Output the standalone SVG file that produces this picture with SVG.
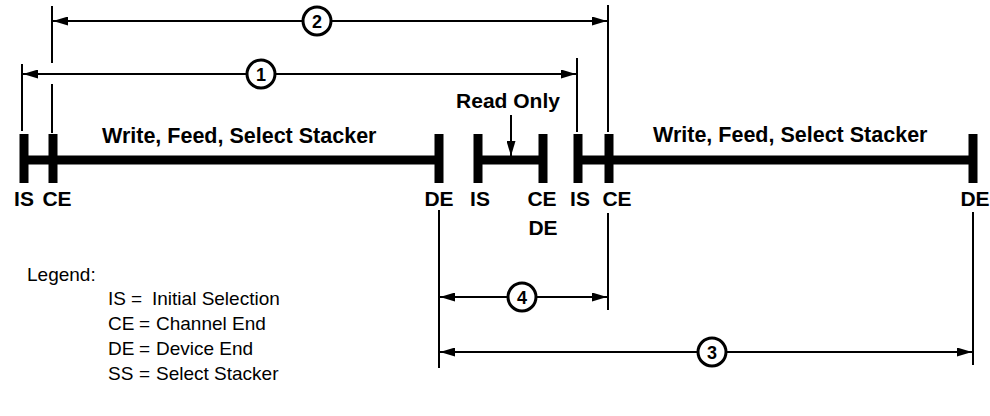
<svg xmlns="http://www.w3.org/2000/svg" width="990" height="416" viewBox="0 0 990 416">
<defs>
<style>
.bar{fill:#000}
.main{stroke:#000;stroke-width:9;fill:none}
.tick{stroke:#000;stroke-width:2;fill:none}
.arr{stroke:#000;stroke-width:1.8;fill:none;marker-start:url(#ah);marker-end:url(#ah)}
.circ{fill:#fff;stroke:#000;stroke-width:3}
.num{font-family:"Liberation Sans",Arial,sans-serif;font-weight:bold;font-size:18px;text-anchor:middle;fill:#000}
.lbl{font-family:"Liberation Sans",Arial,sans-serif;font-weight:bold;font-size:21px;fill:#000}
.big{font-size:21.5px}
.mid{text-anchor:middle}
.leg{font-family:"Liberation Sans",Arial,sans-serif;font-size:19px;fill:#000}
</style>
<marker id="ah" viewBox="0 0 15 9" refX="15" refY="4.5" markerWidth="15" markerHeight="9" markerUnits="userSpaceOnUse" orient="auto-start-reverse">
<path d="M0,0 L15,4.5 L0,9 z" fill="#000"/>
</marker>
<marker id="ahd" viewBox="0 0 9 15" refX="4.5" refY="15" markerWidth="9" markerHeight="15" markerUnits="userSpaceOnUse" orient="0">
<path d="M0,0 L9,0 L4.5,15 z" fill="#000"/>
</marker>
</defs>
<rect width="990" height="416" fill="#fff"/>

<g id="seg1">
<line class="main" x1="24" y1="160" x2="439" y2="160"/>
<rect class="bar" x="19.5" y="134" width="9" height="49"/>
<rect class="bar" x="48.5" y="134" width="9" height="49"/>
<rect class="bar" x="434.5" y="134" width="9" height="49"/>
<text class="lbl big" x="102" y="143">Write, Feed, Select Stacker</text>
<text class="lbl mid" x="24" y="206">IS</text>
<text class="lbl mid" x="57" y="206">CE</text>
<text class="lbl mid" x="439" y="206">DE</text>
</g>

<g id="seg2">
<line class="main" x1="478" y1="160" x2="543" y2="160"/>
<rect class="bar" x="473.5" y="134" width="9" height="49"/>
<rect class="bar" x="538.5" y="134" width="9" height="49"/>
<text class="lbl mid" x="480" y="206">IS</text>
<text class="lbl mid" x="542" y="206">CE</text>
<text class="lbl mid" x="543" y="235">DE</text>
</g>

<g id="readonly">
<text class="lbl mid" x="508" y="108">Read Only</text>
<line x1="511" y1="115" x2="511" y2="156" stroke="#000" stroke-width="2" marker-end="url(#ahd)"/>
</g>

<g id="seg3">
<line class="main" x1="578" y1="160" x2="973" y2="160"/>
<rect class="bar" x="573.5" y="134" width="9" height="49"/>
<rect class="bar" x="604.5" y="134" width="9" height="49"/>
<rect class="bar" x="968.5" y="134" width="9" height="49"/>
<text class="lbl big" x="653" y="142">Write, Feed, Select Stacker</text>
<text class="lbl mid" x="580" y="206">IS</text>
<text class="lbl mid" x="617" y="206">CE</text>
<text class="lbl mid" x="975" y="206">DE</text>
</g>

<g id="connectors">
<line class="tick" x1="52" y1="6" x2="52" y2="63"/>
<line class="tick" x1="52" y1="84" x2="52" y2="133"/>
<line class="tick" x1="608" y1="5" x2="608" y2="132"/>
<line class="arr" x1="53" y1="21" x2="607" y2="21"/>
<line class="tick" x1="22" y1="64" x2="22" y2="131"/>
<line class="tick" x1="577" y1="58" x2="577" y2="132"/>
<line class="arr" x1="23" y1="74" x2="576" y2="74"/>
<line class="tick" x1="439" y1="210" x2="439" y2="368"/>
<line class="tick" x1="608" y1="213" x2="608" y2="310"/>
<line class="tick" x1="973" y1="212" x2="973" y2="365"/>
<line class="arr" x1="440" y1="297" x2="607" y2="297"/>
<line class="arr" x1="440" y1="352" x2="972" y2="352"/>
</g>

<g id="dim1">
<circle class="circ" cx="261" cy="74" r="14"/>
<text class="num" x="261" y="80.5">1</text>
</g>
<g id="dim2">
<circle class="circ" cx="317" cy="21" r="14"/>
<text class="num" x="317" y="27.5">2</text>
</g>
<g id="dim4">
<circle class="circ" cx="522" cy="297" r="14"/>
<text class="num" x="522" y="303.5">4</text>
</g>
<g id="dim3">
<circle class="circ" cx="712" cy="352" r="14"/>
<text class="num" x="712" y="358.5">3</text>
</g>

<g id="legend">
<text class="leg" x="27" y="281">Legend:</text>
<text class="leg" x="108" y="305">IS</text>
<text class="leg" x="131" y="305">=</text>
<text class="leg" x="152" y="305">Initial Selection</text>
<text class="leg" x="108" y="330">CE</text>
<text class="leg" x="139" y="330">=</text>
<text class="leg" x="156" y="330">Channel End</text>
<text class="leg" x="108" y="355">DE</text>
<text class="leg" x="139" y="355">=</text>
<text class="leg" x="156" y="355">Device End</text>
<text class="leg" x="108" y="380">SS</text>
<text class="leg" x="139" y="380">=</text>
<text class="leg" x="156" y="380">Select Stacker</text>
</g>
</svg>
